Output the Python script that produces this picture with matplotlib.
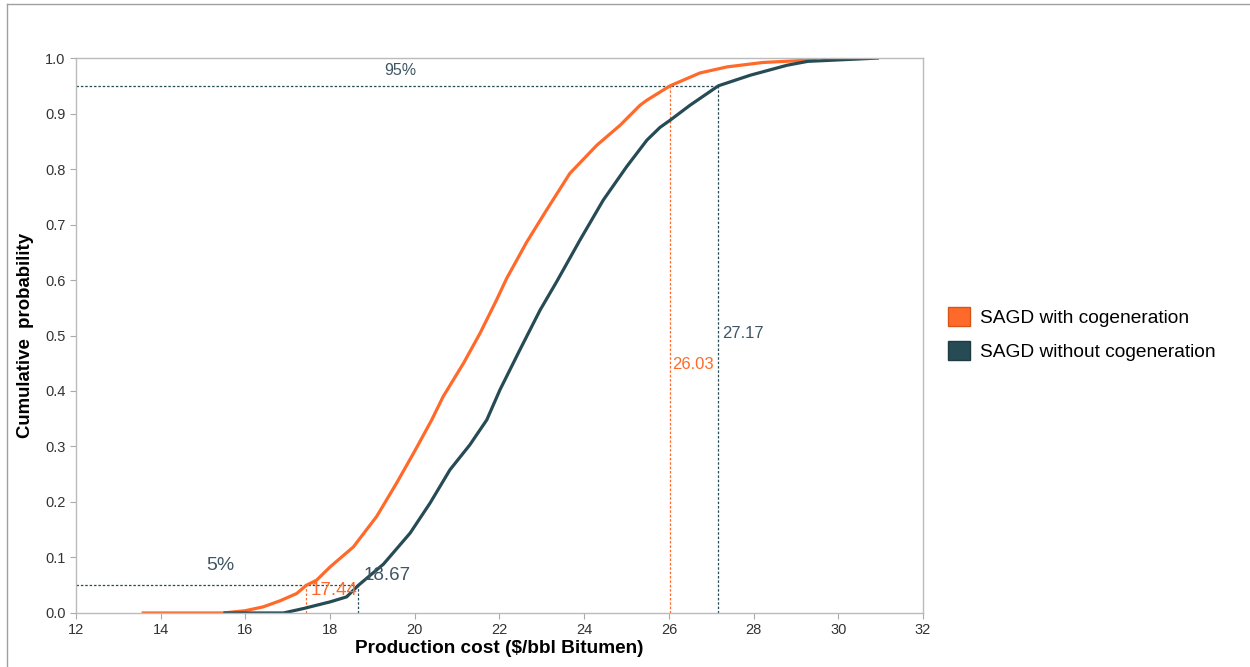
import matplotlib
matplotlib.use("Agg")
import matplotlib.pyplot as plt
from matplotlib.patches import Patch
from matplotlib.lines import Line2D

plt.rcParams['font.family'] = ['Liberation Sans', 'DejaVu Sans']

# cumulative curves (cost, probability)
cost_cogen = [13.55, 15.48, 15.99, 16.42, 16.82, 17.21, 17.44, 17.68, 18.00, 18.55,
              19.10, 19.57, 20.00, 20.40, 20.67, 21.15, 21.54, 21.93, 22.17, 22.64,
              23.11, 23.66, 24.30, 24.85, 25.32, 25.48, 26.03, 26.73, 27.37, 28.22,
              29.26, 29.50]
prob_cogen = [0.0, 0.0, 0.004, 0.011, 0.022, 0.035, 0.050, 0.059, 0.083, 0.119,
              0.174, 0.234, 0.292, 0.348, 0.390, 0.450, 0.504, 0.564, 0.603, 0.668,
              0.726, 0.792, 0.843, 0.879, 0.915, 0.924, 0.950, 0.973, 0.984, 0.992,
              0.996, 1.0]

cost_nocogen = [15.48, 16.90, 17.37, 18.00, 18.39, 18.67, 19.26, 19.89, 20.36, 20.83,
                21.30, 21.70, 22.01, 22.48, 22.96, 23.35, 23.90, 24.45, 25.00, 25.48,
                25.79, 26.03, 26.50, 27.17, 27.92, 28.79, 29.28, 30.96]
prob_nocogen = [0.0, 0.0, 0.008, 0.020, 0.029, 0.050, 0.088, 0.144, 0.198, 0.258,
                0.303, 0.348, 0.402, 0.474, 0.546, 0.597, 0.672, 0.744, 0.804, 0.852,
                0.875, 0.888, 0.915, 0.950, 0.969, 0.987, 0.994, 1.0]

p05_cogen, p95_cogen = 17.44, 26.03
p05_nocogen, p95_nocogen = 18.67, 27.17

series_names = ['SAGD with cogeneration', 'SAGD without cogeneration']
orange = '#FF6A2A'
dark = '#274B55'
text_dark = '#3F5663'

fig = plt.figure(figsize=(12.5, 6.67), dpi=100)
ax = fig.add_axes([0.0608, 0.081, 0.6776, 0.832])

# percentile guide lines
dash = dict(linestyle=(0, (2, 1.5)), linewidth=0.9)
ax.plot([12, p05_nocogen], [0.05, 0.05], color=dark, **dash)
ax.plot([12, p95_nocogen], [0.95, 0.95], color=dark, **dash)
ax.plot([p05_cogen, p05_cogen], [0, 0.05], color=orange, **dash)
ax.plot([p95_cogen, p95_cogen], [0, 0.95], color=orange, **dash)
ax.plot([p05_nocogen, p05_nocogen], [0, 0.05], color=dark, **dash)
ax.plot([p95_nocogen, p95_nocogen], [0, 0.95], color=dark, **dash)

ax.plot(cost_cogen, prob_cogen, color=orange, lw=2.3, solid_capstyle='butt')
ax.plot(cost_nocogen, prob_nocogen, color=dark, lw=2.3, solid_capstyle='butt')

ax.text(19.65, 0.977, '95%', color=text_dark, fontsize=11.5, ha='center', va='center')
ax.text(15.42, 0.085, '5%', color=text_dark, fontsize=14, ha='center', va='center')
ax.text(17.53, 0.041, '%.2f' % p05_cogen, color=orange, fontsize=13.5, ha='left', va='center')
ax.text(18.80, 0.067, '%.2f' % p05_nocogen, color=text_dark, fontsize=13.5, ha='left', va='center')
ax.text(26.08, 0.447, '%.2f' % p95_cogen, color=orange, fontsize=12, ha='left', va='center')
ax.text(27.25, 0.503, '%.2f' % p95_nocogen, color=text_dark, fontsize=12, ha='left', va='center')

ax.set_xlim(12, 32)
ax.set_ylim(0, 1.0)
ax.set_xticks(range(12, 33, 2))
ax.set_yticks([i / 10 for i in range(11)])
ax.set_yticklabels(['%.1f' % (i / 10) for i in range(11)])
ax.tick_params(colors='#AAAAAA', labelcolor='#333333', labelsize=10.5, length=4, width=0.8)
for s in ax.spines.values():
    s.set_color('#BBBBBB')
    s.set_linewidth(1.0)

ax.set_xlabel('Production cost ($/bbl Bitumen)', fontsize=13.7, fontweight='bold', labelpad=2)
ax.set_ylabel('Cumulative  probability', fontsize=13.4, fontweight='bold', labelpad=8)

handles = [Patch(facecolor=orange, edgecolor='#D9541A'), Patch(facecolor=dark, edgecolor='#1E3B43')]
fig.legend(handles, series_names, loc='center left', bbox_to_anchor=(0.7525, 0.499),
           frameon=False, fontsize=13.8, handlelength=1.15, handleheight=1.15,
           handletextpad=0.5, labelspacing=0.75, borderaxespad=0)

# thin frame lines at the top and left of the picture
fig.add_artist(Line2D([0.0056, 1.0], [0.994, 0.994], color='#A0A0A0', lw=1.0))
fig.add_artist(Line2D([0.0056, 0.0056], [0.0, 0.994], color='#A0A0A0', lw=1.0))

fig.savefig('out.png', dpi=100)
